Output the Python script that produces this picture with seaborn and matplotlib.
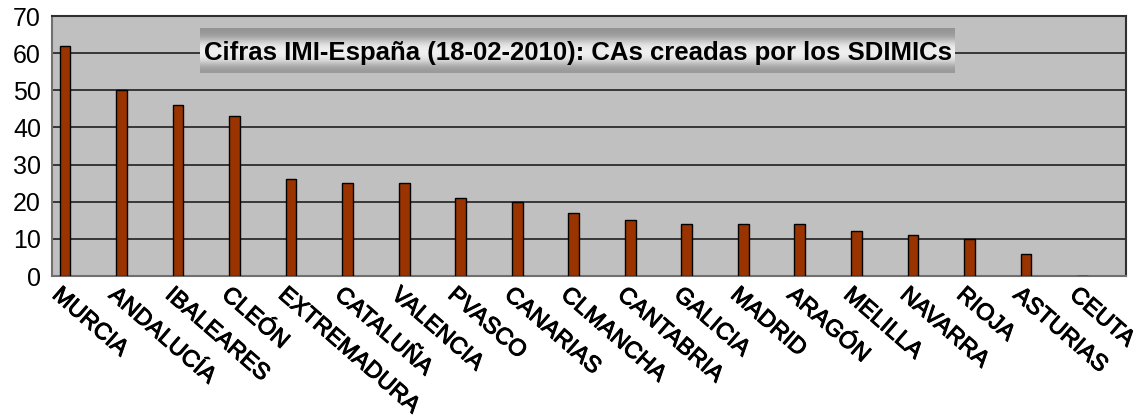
import numpy as np
import pandas as pd
import matplotlib
matplotlib.use('Agg')
import matplotlib.pyplot as plt
import matplotlib.transforms as mtransforms
import matplotlib.patheffects as pe
import seaborn as sns

regions = ['MURCIA', 'ANDALUCÍA', 'IBALEARES', 'CLEÓN', 'EXTREMADURA', 'CATALUÑA',
           'VALENCIA', 'PVASCO', 'CANARIAS', 'CLMANCHA', 'CANTABRIA', 'GALICIA',
           'MADRID', 'ARAGÓN', 'MELILLA', 'NAVARRA', 'RIOJA', 'ASTURIAS', 'CEUTA']
cas_creadas = [62, 50, 46, 43, 26, 25, 25, 21, 20, 17, 15, 14, 14, 14, 12, 11, 10, 6, 0]
y_ticks = [0, 10, 20, 30, 40, 50, 60, 70]
title = 'Cifras IMI-España (18-02-2010): CAs creadas por los SDIMICs'

sns.set_style('white', {'axes.facecolor': '#c0c0c0', 'text.color': 'black',
                        'xtick.color': 'black', 'ytick.color': 'black'})
plt.rcParams['font.family'] = ['Liberation Sans', 'DejaVu Sans']

df = pd.DataFrame({'region': regions, 'cas': cas_creadas})

fig = plt.figure(figsize=(11.46, 4.19), dpi=100)
ax = fig.add_axes([52 / 1146, 1 - 276 / 419, 1074 / 1146, 260 / 419])

sns.barplot(data=df, x='region', y='cas', color='#993300', saturation=1,
            width=0.19, edgecolor='black', linewidth=1, ax=ax, zorder=3)

# bars sit left of centre in each category slot (as in the Excel original)
lead = 0.23
ax.set_xlim(-lead, len(regions) - lead)
ax.set_ylim(0, 70)
ax.set_yticks(y_ticks)
ax.yaxis.grid(True, color='#202020', linewidth=1.2, zorder=1)
ax.set_axisbelow(True)
ax.set_xlabel('')
ax.set_ylabel('')

# Excel style: ticks sit between categories
ax.set_xticks(np.arange(len(regions) + 1) - lead, minor=True)
ax.tick_params(axis='x', which='minor', length=6, width=1, color='#606060', direction='out')
ax.tick_params(axis='x', which='major', length=0, pad=5, labelcolor='black')
ax.tick_params(axis='y', length=6, width=1, color='#606060', direction='out',
               labelsize=18, pad=2, labelcolor='black')

offset = mtransforms.ScaledTranslation(-2 / 100, 0, fig.dpi_scale_trans)
for lbl in ax.get_xticklabels():
    lbl.set_rotation(-41)
    lbl.set_rotation_mode('anchor')
    lbl.set_ha('left')
    lbl.set_va('top')
    lbl.set_fontsize(16.8)
    lbl.set_transform(lbl.get_transform() + offset)
    lbl.set_path_effects([pe.withStroke(linewidth=0.7, foreground='black')])

ax.spines['left'].set_color('#707070')
ax.spines['bottom'].set_color('#707070')
ax.spines['top'].set_color('#303030')
ax.spines['right'].set_color('#303030')
for sp in ax.spines.values():
    sp.set_visible(True)
    sp.set_linewidth(1.5)

# title box with gradient
tax = fig.add_axes([200 / 1146, 1 - 73 / 419, 755 / 1146, 45 / 419])
profile = np.array([0.58, 0.6, 0.66, 0.78, 0.88, 0.93, 0.94, 0.92, 0.86, 0.74, 0.64, 0.6])
tax.imshow(profile.reshape(-1, 1), aspect='auto', cmap='gray', vmin=0, vmax=1,
           extent=[0, 1, 0, 1], interpolation='bicubic')
tax.set_xlim(0, 1)
tax.set_ylim(0, 1)
tax.axis('off')
tax.text(0.5, 0.45, title, ha='center', va='center', fontsize=18.5, fontweight='bold',
         color='black')

fig.savefig('out.png', dpi=100)
